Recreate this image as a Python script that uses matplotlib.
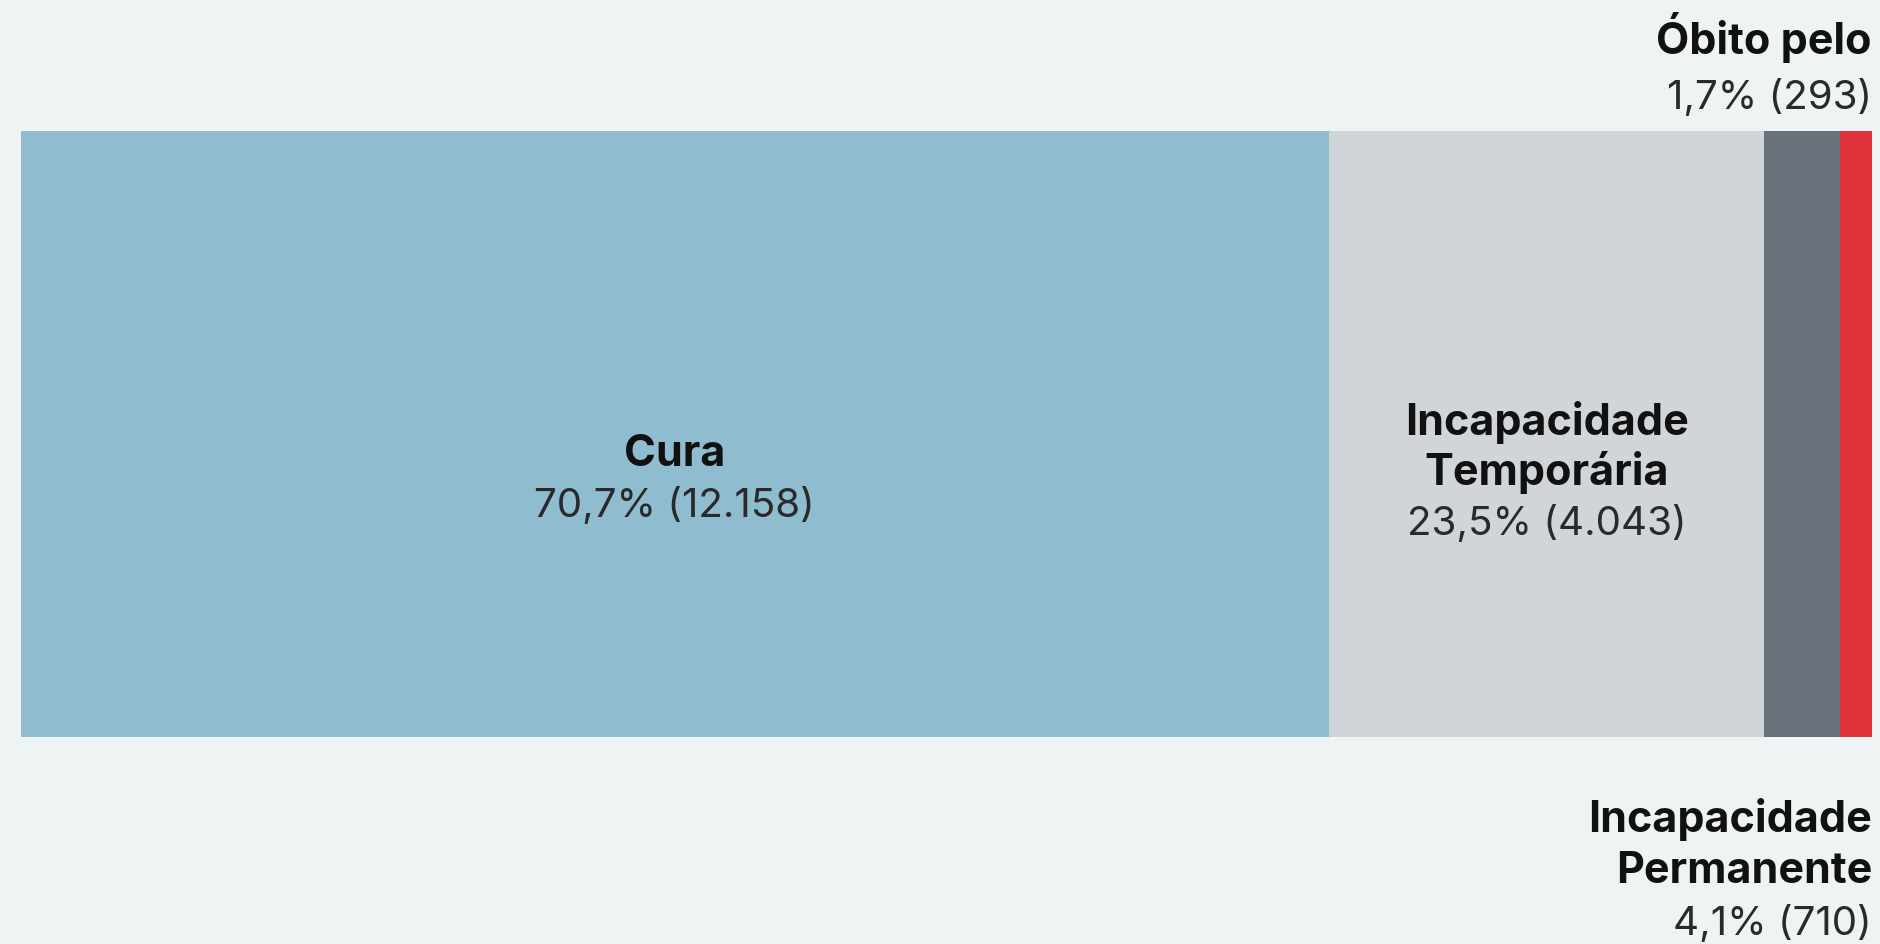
import numpy as np
import matplotlib.pyplot as plt

categorias = ["Cura", "Incapacidade\nTemporária", "Incapacidade\nPermanente", "Óbito pelo"]
casos = [12158, 4043, 710, 293]
percentuais = ["70,7%", "23,5%", "4,1%", "1,7%"]
cores = ["#8fbdcf", "#d0d5da", "#69717a", "#e0333c"]

plt.rcParams['font.family'] = ['Inter', 'DejaVu Sans']
fundo = "#eef3f4"

fig = plt.figure(figsize=(18.8, 9.45), dpi=100, facecolor=fundo)
# barra ocupa de 20 a 1872 px na horizontal e de 132 a 738 px na vertical
ax = fig.add_axes([20.7 / 1880, (945 - 738) / 945, (1872 - 20.7) / 1880, (738 - 132) / 945])
ax.set_facecolor(fundo)

inicio = np.concatenate([[0], np.cumsum(casos)[:-1]])
total = sum(casos)
ax.barh(0, casos, left=inicio, height=1, color=cores, linewidth=0)
ax.set_xlim(0, total)
ax.set_ylim(-0.5, 0.5)
ax.axis('off')


def fmt(n):
    return f"{n:,}".replace(",", ".")


def rotulo(x, y, nome, pct, n, ha='center', passo=36):
    linhas = [(t, 'bold', '#111111', 31) for t in nome.split("\n")]
    linhas.append((f"{pct} ({fmt(n)})", 'normal', '#2a2a2a', 29))
    for i, (txt, peso, cor, tam) in enumerate(linhas):
        ax.annotate(txt, xy=(x, y), xycoords=ax.get_xaxis_transform(),
                    xytext=(0, -i * passo), textcoords='offset points',
                    ha=ha, va='baseline', fontsize=tam, fontweight=peso,
                    color=cor, annotation_clip=False)


# rótulos dentro das barras grandes
for k in (0, 1):
    meio = inicio[k] + casos[k] / 2
    y0 = 0.449 if k == 0 else 0.5
    rotulo(meio, y0, categorias[k], percentuais[k], casos[k], passo=37 if k == 0 else 36)

# rótulos fora das barras pequenas, alinhados à direita
rotulo(total, -0.155, categorias[2], percentuais[2], casos[2], ha='right', passo=37)
rotulo(total, 1.129, categorias[3], percentuais[3], casos[3], ha='right', passo=40)

fig.savefig("out.png", dpi=100, facecolor=fundo)
